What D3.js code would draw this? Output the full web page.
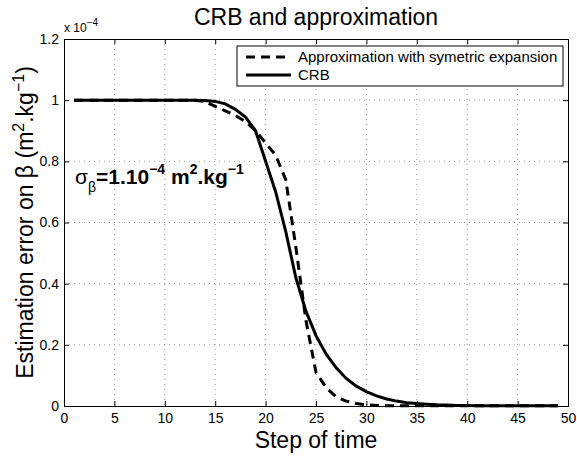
<!DOCTYPE html>
<html><head><meta charset="utf-8">
<script src="https://cdn.jsdelivr.net/npm/d3@7"></script>
<style>body{margin:0;background:#fff}svg{display:block}text{font-family:"Liberation Sans",Arial,sans-serif}</style>
</head><body><svg id="c" width="577" height="459"></svg>
<script>
const steps = d3.range(1, 50);
const crb = [1,1,1,1,1,1,1,1,1,1,1,1,1,0.999,0.996,0.988,0.97,0.945,0.90,0.80,0.70,0.57,0.42,0.31,0.23,0.17,0.125,0.09,0.065,0.047,0.033,0.023,0.016,0.011,0.008,0.006,0.004,0.003,0.002,0.0015,0.001,0.001,0.001,0.001,0.001,0.001,0.001,0.001,0.001];
const approx = [1,1,1,1,1,1,1,1,1,1,1,1,1,0.995,0.98,0.965,0.95,0.93,0.90,0.86,0.82,0.74,0.52,0.28,0.11,0.06,0.03,0.016,0.008,0.004,0.002,0.001,0.001,0.001,0.001,0.001,0.001,0.001,0.001,0.001,0.001,0.001,0.001,0.001,0.001,0.001,0.001,0.001,0.001];
const xTicks = d3.range(0, 51, 5);
const yTicks = [0, 0.2, 0.4, 0.6, 0.8, 1, 1.2];
const legendLabels = ["Approximation with symetric expansion", "CRB"];

const svg = d3.select("#c");
const L = 64, R = 568, T = 39, B = 406;
const x = d3.scaleLinear().domain([0, 50]).range([L, R]);
const y = d3.scaleLinear().domain([0, 1.2]).range([B, T]);

// grid
const g = svg.append("g");
g.selectAll(".gx").data(xTicks.slice(1, -1)).join("line")
  .attr("x1", d => x(d)).attr("x2", d => x(d)).attr("y1", T).attr("y2", B)
  .attr("stroke", "#999").attr("stroke-width", 1).attr("stroke-dasharray", "1,4");
g.selectAll(".gy").data(yTicks.slice(1, -1)).join("line")
  .attr("y1", d => y(d)).attr("y2", d => y(d)).attr("x1", L).attr("x2", R)
  .attr("stroke", "#999").attr("stroke-width", 1).attr("stroke-dasharray", "1,4");

// axes
const fmtY = d => d === 0 ? "0" : d === 1 ? "1" : d3.format(".1f")(d);
const ax = svg.append("g").attr("transform", `translate(0,${B})`)
  .call(d3.axisBottom(x).tickValues(xTicks).tickSize(-5).tickPadding(7).tickFormat(d3.format("d")));
const axT = svg.append("g").attr("transform", `translate(0,${T})`)
  .call(d3.axisTop(x).tickValues(xTicks).tickSize(-5).tickFormat(""));
const ay = svg.append("g").attr("transform", `translate(${L},0)`)
  .call(d3.axisLeft(y).tickValues(yTicks).tickSize(-5).tickPadding(5).tickFormat(fmtY));
const ayR = svg.append("g").attr("transform", `translate(${R},0)`)
  .call(d3.axisRight(y).tickValues(yTicks).tickSize(-5).tickFormat(""));
[ax, axT, ay, ayR].forEach(a => {
  a.select(".domain").attr("stroke", "#000").attr("stroke-width", 1);
  a.selectAll(".tick line").attr("stroke", "#000");
  a.selectAll("text").attr("font-size", 14).attr("fill", "#000")
    .style("font-family", '"Liberation Sans",Arial,sans-serif');
});

// lines
const line = d3.line().x((d, i) => x(steps[i])).y(d => y(d));
svg.append("path").datum(approx).attr("d", line).attr("fill", "none")
  .attr("stroke", "#000").attr("stroke-width", 3).attr("stroke-dasharray", "9,6");
svg.append("path").datum(crb).attr("d", line).attr("fill", "none")
  .attr("stroke", "#000").attr("stroke-width", 3);

// title
svg.append("text").attr("x", (L + R) / 2).attr("y", 25).attr("text-anchor", "middle")
  .attr("font-size", 23).text("CRB and approximation");

// exponent label
const ex = svg.append("text").attr("x", L).attr("y", 32).attr("font-size", 12);
ex.append("tspan").text("x 10");
ex.append("tspan").attr("dy", -6).attr("font-size", 10).text("\u22124");

// x label
svg.append("text").attr("x", (L + R) / 2).attr("y", 448).attr("text-anchor", "middle")
  .attr("font-size", 23).text("Step of time");

// y label
const yl = svg.append("text").attr("transform", `translate(33,${(T + B) / 2}) rotate(-90)`)
  .attr("text-anchor", "middle").attr("font-size", 23);
yl.append("tspan").text("Estimation error on \u03b2 (m");
yl.append("tspan").attr("dy", -9).attr("font-size", 16).text("2");
yl.append("tspan").attr("dy", 9).text(".kg");
yl.append("tspan").attr("dy", -9).attr("font-size", 16).text("\u22121");
yl.append("tspan").attr("dy", 9).text(")");

// annotation
const an = svg.append("text").attr("x", 75).attr("y", 184).attr("font-size", 21).attr("font-weight", "bold");
an.append("tspan").attr("font-weight", "normal").text("\u03c3");
an.append("tspan").attr("dy", 8).attr("font-size", 14).attr("font-weight", "normal").text("\u03b2");
an.append("tspan").attr("dy", -8).text("=1.10");
an.append("tspan").attr("dy", -10).attr("font-size", 14).text("\u22124");
an.append("tspan").attr("dy", 10).text(" m");
an.append("tspan").attr("dy", -10).attr("font-size", 14).text("2");
an.append("tspan").attr("dy", 10).text(".kg");
an.append("tspan").attr("dy", -10).attr("font-size", 14).text("\u22121");

// legend
const lg = svg.append("g");
lg.append("rect").attr("x", 237).attr("y", 46).attr("width", 326).attr("height", 40)
  .attr("fill", "#fff").attr("stroke", "#000").attr("stroke-width", 1);
const dashes = ["9,6", null];
legendLabels.forEach((t, i) => {
  const yy = 57 + i * 18;
  lg.append("line").attr("x1", 246).attr("x2", 291).attr("y1", yy).attr("y2", yy)
    .attr("stroke", "#000").attr("stroke-width", 3).attr("stroke-dasharray", dashes[i]);
  lg.append("text").attr("x", 298).attr("y", yy + 5).attr("font-size", 15).text(t);
});
</script></body></html>
